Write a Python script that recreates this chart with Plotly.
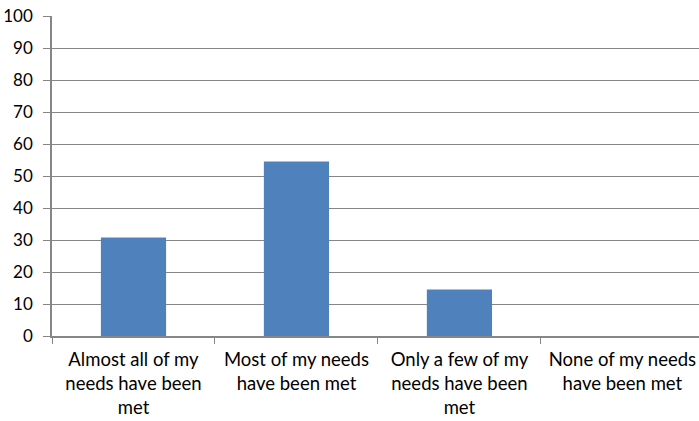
import plotly.graph_objects as go

categories = ["Almost all of my<br>needs have been<br>met",
              "Most of my needs<br>have been met",
              "Only a few of my<br>needs have been<br>met",
              "None of my needs<br>have been met"]
values = [30.8, 54.5, 14.5, 0]
y_ticks = list(range(0, 101, 10))

fig = go.Figure(go.Bar(x=categories, y=values, marker=dict(color="#4F81BD", line=dict(width=0)), width=0.4))

xfont = dict(family="Lato, 'Open Sans', sans-serif", size=18.5, color="#000000")
yfont = dict(family="Lato, 'Open Sans', sans-serif", size=17, color="#000000")
fig.update_layout(
    width=699, height=421,
    margin=dict(l=52, r=0, t=16, b=85),
    paper_bgcolor="white", plot_bgcolor="white",
    font=yfont, showlegend=False,
    xaxis=dict(type="category", range=[-0.5, 3.47], tickson="boundaries",
               ticks="outside", ticklen=6, tickcolor="#868686",
               showline=True, linecolor="#868686", linewidth=1.5,
               showgrid=False, tickfont=xfont, ticklabelstandoff=6,
               automargin=False),
    yaxis=dict(range=[0, 100], tickvals=y_ticks, ticks="outside", ticklen=7,
               tickcolor="#868686", showline=True, linecolor="#868686", linewidth=1.5,
               showgrid=True, gridcolor="#868686", gridwidth=1, zeroline=False,
               tickfont=yfont, ticklabelstandoff=7, automargin=False),
)
fig.write_html("out.html")
